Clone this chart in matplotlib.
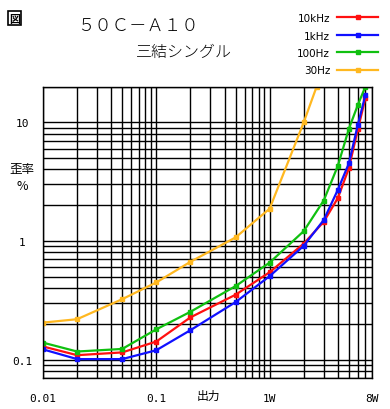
import matplotlib
matplotlib.use("Agg")
import matplotlib.pyplot as plt
from matplotlib.ticker import LogLocator, NullFormatter

plt.rcParams['font.family'] = ['DejaVu Sans']

# ---- data ----
power = [0.01, 0.02, 0.05, 0.1, 0.2, 0.5, 1, 2, 3, 4, 5, 6, 7]
thd_10k = [0.129, 0.109, 0.115, 0.142, 0.227, 0.352, 0.545, 0.95, 1.45, 2.3, 4.1, 8.7, 16.0]
thd_1k = [0.122, 0.101, 0.101, 0.120, 0.177, 0.305, 0.505, 0.91, 1.50, 2.7, 4.5, 9.5, 17.0]
thd_100 = [0.139, 0.117, 0.123, 0.180, 0.253, 0.416, 0.657, 1.21, 2.19, 4.3, 8.8, 14.0, 20.0]
power_30 = [0.01, 0.02, 0.05, 0.1, 0.2, 0.5, 1, 2, 2.6]
thd_30 = [0.205, 0.219, 0.323, 0.447, 0.667, 1.07, 1.87, 10.0, 20.0]

series_labels = ["10kHz", "1kHz", "100Hz", "30Hz"]
series_colors = ["#ff1010", "#1010ff", "#10c010", "#ffb820"]

xtick_vals = [0.01, 0.1, 1, 8]
xtick_labels = ["0.01", "0.1", "1W", "8W"]
ytick_vals = [0.1, 1, 10]
ytick_labels = ["0.1", "1", "10"]

title1 = "５０Ｃ－Ａ１０"
title2 = "三結シングル"
xlabel = "出力"
ylabel1 = "歪率"
ylabel2 = "%"
fig_mark = "図"

# ---- figure ----
W, H = 390, 410
fig = plt.figure(figsize=(W / 100, H / 100), dpi=100)
L, R, T, B = 43, 372, 87.5, 379
ax = fig.add_axes([L / W, 1 - B / H, (R - L) / W, (B - T) / H])
ax.set_xscale('log')
ax.set_yscale('log')
ax.set_xlim(0.01, 8)
ax.set_ylim(0.07, 20)

ax.xaxis.set_minor_locator(LogLocator(base=10, subs=range(2, 10), numticks=20))
ax.yaxis.set_minor_locator(LogLocator(base=10, subs=range(2, 10), numticks=20))
ax.xaxis.set_minor_formatter(NullFormatter())
ax.yaxis.set_minor_formatter(NullFormatter())
ax.grid(which='both', color='black', linewidth=1.0)
ax.set_axisbelow(True)
for sp in ax.spines.values():
    sp.set_color('black')
    sp.set_linewidth(1.0)

ax.set_xticks(xtick_vals)
ax.set_xticklabels(xtick_labels, family='DejaVu Sans Mono', fontsize=8)
ax.set_yticks(ytick_vals)
ax.set_yticklabels(ytick_labels, family='DejaVu Sans Mono', fontsize=8)
ax.tick_params(which='both', length=0)
ax.tick_params(axis='x', pad=11)
ax.tick_params(axis='y', pad=15)
for lab in ax.get_yticklabels():
    lab.set_horizontalalignment('center')

ys = [thd_10k, thd_1k, thd_100, thd_30]
xs = [power, power, power, power_30]
handles = []
for x, y, lab, c in zip(xs, ys, series_labels, series_colors):
    h, = ax.plot(x, y, color=c, lw=1.6, marker='s', markersize=3.2, label=lab, clip_on=True)
    handles.append(h)

fig.legend(handles=handles, loc='upper right', bbox_to_anchor=(378 / W, 1 - 14 / H),
           frameon=False, markerfirst=False, fontsize=7.5, handlelength=3.9,
           handletextpad=0.7, labelspacing=0.72, borderpad=0, borderaxespad=0)

cjk = ['Noto Sans CJK JP', 'DejaVu Sans']
fig.text(138 / W, 1 - 27 / H, title1, family=cjk, fontsize=12.5, fontweight='light',
         ha='center', va='center')
fig.text(184 / W, 1 - 52 / H, title2, family=cjk, fontsize=11.5, fontweight='light',
         ha='center', va='center')
fig.text(208 / W, 1 - 396 / H, xlabel, family=cjk, fontsize=8.5, ha='center', va='center')
fig.text(22 / W, 1 - 170 / H, ylabel1, family=cjk, fontsize=9, ha='center', va='center')
fig.text(22 / W, 1 - 187 / H, ylabel2, family=cjk, fontsize=9, ha='center', va='center')
fig.text(14.5 / W, 1 - 19 / H, fig_mark, family=cjk, fontsize=8, fontweight='bold',
         ha='center', va='center',
         bbox=dict(boxstyle='square,pad=0.05', fc='white', ec='black', lw=1.2))

fig.savefig('out.png', dpi=100)
